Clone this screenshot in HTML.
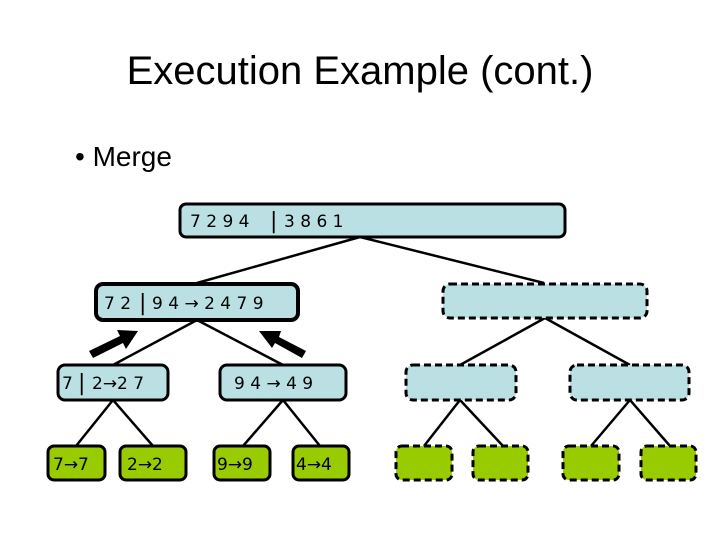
<!DOCTYPE html><html><head><style>body{margin:0;background:#fff}svg text{font-family:"DejaVu Sans","Liberation Sans",sans-serif}</style></head><body>
<svg width="720" height="540" xmlns="http://www.w3.org/2000/svg">
<text x="360" y="84" text-anchor="middle" font-size="40" style="font-family:'Liberation Sans',sans-serif">Execution Example (cont.)</text>
<text x="75" y="166" font-size="28" style="font-family:'Liberation Sans',sans-serif">• Merge</text>
<g stroke="#000" stroke-width="2.5" fill="none">
<path d="M360 237L197 283M360 237L544 283M197 320L113 365M197 320L283 365M113 400L76 446M113 400L153 446M283 400L243 446M283 400L320 446M545 318L460 365M545 318L630 365M460 400L424 446M460 400L503 446M630 400L591 446M630 400L670 446"/>
</g>
<g stroke="#000" stroke-width="3" fill="#bbe0e3">
<rect x="180" y="204" width="385" height="33" rx="6"/>
<rect x="96" y="284" width="202" height="36" rx="7" stroke-width="4"/>
<rect x="58" y="365" width="110" height="35" rx="7"/>
<rect x="220" y="365" width="126" height="35" rx="7"/>
</g>
<g stroke="#000" stroke-width="3" fill="#bbe0e3" stroke-dasharray="7,4">
<rect x="443" y="284" width="204" height="34" rx="7"/>
<rect x="406" y="365" width="110" height="35" rx="7"/>
<rect x="570" y="365" width="119" height="35" rx="7"/>
</g>
<g stroke="#000" stroke-width="3" fill="#99cc00">
<rect x="48" y="446" width="57" height="34" rx="6"/>
<rect x="120" y="446" width="66" height="34" rx="6"/>
<rect x="214" y="446" width="56" height="34" rx="6"/>
<rect x="293" y="446" width="56" height="34" rx="6"/>
</g>
<g stroke="#000" stroke-width="3" fill="#99cc00" stroke-dasharray="7,4">
<rect x="396" y="446" width="56" height="34" rx="6"/>
<rect x="473" y="446" width="55" height="34" rx="6"/>
<rect x="563" y="446" width="56" height="34" rx="6"/>
<rect x="641" y="446" width="55" height="34" rx="6"/>
</g>
<g font-size="17" fill="#000">
<text x="190" y="227">7 2 9 4</text><text x="270" y="228" font-size="22">|</text><text x="284" y="227">3 8 6 1</text>
<text x="104" y="309">7 2</text><text x="139" y="310" font-size="22">|</text><text x="152" y="309">9 4 → 2 4 7 9</text>
<text x="62" y="389">7</text><text x="78" y="390" font-size="22">|</text><text x="92" y="389">2→2 7</text>
<text x="234" y="389">9 4 → 4 9</text>
<text x="53" y="470">7→7</text><text x="127" y="470">2→2</text><text x="217" y="470">9→9</text><text x="296" y="470">4→4</text>
</g>
<g fill="#000">
<path d="M89 351L120 336L117 330L138 331L126 349L123 343L93 358Z"/>
<path d="M306 351L279 337L281 331L259 331L272 348L275 343L302 358Z"/>
</g>
</svg></body></html>
